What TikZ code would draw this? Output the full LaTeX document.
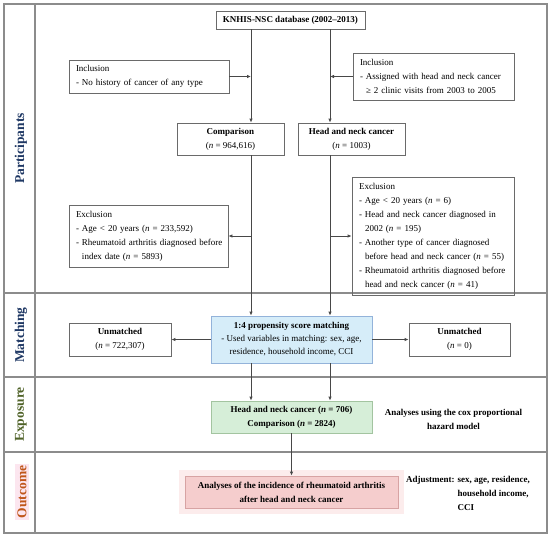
\documentclass[tikz,border=0pt]{standalone}
\usepackage{fontspec}
\setmainfont{Liberation Serif}
\usetikzlibrary{arrows.meta}
\definecolor{framegray}{HTML}{8C8C8C}
\definecolor{boxgray}{HTML}{6A6A6A}
\definecolor{arrowgray}{HTML}{484848}
\definecolor{phasenavy}{HTML}{1F3864}
\definecolor{phaseolive}{HTML}{4F6228}
\definecolor{phaserust}{HTML}{C0561A}
\definecolor{psmfill}{HTML}{D6EDF9}
\definecolor{psmdraw}{HTML}{93B3DA}
\definecolor{expfill}{HTML}{D6EED8}
\definecolor{expdraw}{HTML}{A3C4A0}
\definecolor{outfill}{HTML}{F5CDCD}
\definecolor{outdraw}{HTML}{D7A3A3}
\definecolor{outglow}{HTML}{FCECEC}
\definecolor{labpink}{HTML}{FCE6EF}
\newcommand{\headline}{\hspace*{2.5pt}}
\newcommand{\dashitem}{\hspace*{2.5pt}- }
\newcommand{\contline}{\hspace*{8.5pt}}
\tikzset{
  box/.style={draw=boxgray,line width=0.8pt,inner sep=0pt,
    font=\fontsize{9}{14}\selectfont,align=center},
  listbox/.style={box,align=left,inner xsep=4.5pt},
  phase/.style={rotate=90,inner sep=0pt,font=\fontsize{13.5}{16}\selectfont\bfseries},
  flow/.style={->,color=arrowgray,line width=0.9pt},
  note/.style={inner sep=0pt,font=\fontsize{9}{14}\selectfont\bfseries,align=center}
}

\begin{document}
\begin{tikzpicture}[x=1pt,y=-1pt,>={Latex[length=4pt,width=3.5pt]}]
  \useasboundingbox (0,0) rectangle (550,536);
  \draw[framegray,line width=1.1pt] (4,4) rectangle (547,533);
  \draw[framegray,line width=1.1pt] (35,4) -- (35,533)
    (4,293) -- (547,293) (4,377) -- (547,377) (4,452) -- (547,452);
  \node[phase,text=phasenavy] (Part) at (21,148.5) {Participants};
  \node[phase,text=phasenavy] (Match) at (21,335) {Matching};
  \node[phase,text=phaseolive] (Expo) at (21,414.5) {Exposure};
  \node[phase,text=phaserust,fill=labpink,inner sep=2pt] (Outc) at (22,492) {Outcome};
  \coordinate (colL) at (251,0);
  \coordinate (colR) at (330,0);
  \node[box,minimum width=149pt,minimum height=18pt] (DB) at (290.5,20) {
    \textbf{KNHIS-NSC database (2002--2013)}};
  \node[listbox,text width=151pt,minimum height=33pt] (IncC) at (149,76.5) {
    \headline Inclusion\\
    \dashitem No history of cancer of any type};
  \node[listbox,text width=152pt,minimum height=47pt] (IncH) at (433.5,76.5) {
    \headline Inclusion\\
    \dashitem Assigned with head and neck cancer\\
    \contline ≥ 2 clinic visits from 2003 to 2005};
  \node[box,minimum width=107pt,minimum height=32pt] (Cmp) at (230.5,139) {
    \textbf{Comparison}\\
    (\textit{n} = 964,616)};
  \node[box,minimum width=107pt,minimum height=32pt] (HNC) at (351.5,139) {
    \textbf{Head and neck cancer}\\
    (\textit{n} = 1003)};
  \node[listbox,text width=150pt,minimum height=62pt] (ExcC) at (148.5,236) {
    \headline Exclusion\\
    \dashitem Age < 20 years (\textit{n} = 233,592)\\
    \dashitem Rheumatoid arthritis diagnosed before\\
    \contline index date (\textit{n} = 5893)};
  \node[listbox,text width=153pt,minimum height=118pt] (ExcH) at (433,236) {
    \headline Exclusion\\
    \dashitem Age < 20 years (\textit{n} = 6)\\
    \dashitem Head and neck cancer diagnosed in\\
    \contline 2002 (\textit{n} = 195)\\
    \dashitem Another type of cancer diagnosed\\
    \contline before head and neck cancer (\textit{n} = 55)\\
    \dashitem Rheumatoid arthritis diagnosed before\\
    \contline head and neck cancer (\textit{n} = 41)};
  \node[box,draw=psmdraw,fill=psmfill,minimum width=161pt,minimum height=47pt,
    font=\fontsize{9}{13}\selectfont] (PSM) at (291.5,339.5) {
    \textbf{1:4 propensity score matching}\\
    - Used variables in matching: sex, age,\\
    residence, household income, CCI};
  \node[box,minimum width=102pt,minimum height=33pt] (UnC) at (120,339.5) {
    \textbf{Unmatched}\\
    (\textit{n} = 722,307)};
  \node[box,minimum width=101pt,minimum height=33pt] (UnH) at (459.5,339.5) {
    \textbf{Unmatched}\\
    (\textit{n} = 0)};
  \node[box,draw=expdraw,fill=expfill,minimum width=161pt,minimum height=32pt,
    font=\fontsize{9}{14}\selectfont\bfseries] (Exp) at (291.5,417) {
    Head and neck cancer (\textit{n} = 706)\\
    Comparison (\textit{n} = 2824)};
  \node[note] (Cox) at (453.5,419) {
    Analyses using the cox proportional\\
    hazard model};
  \node[box,draw=outdraw,fill=outfill,minimum width=213pt,minimum height=32pt,
    preaction={draw=outglow,line width=12pt},
    font=\fontsize{9}{14}\selectfont\bfseries] (Out) at (291.5,492) {
    Analyses of the incidence of rheumatoid arthritis\\
    after head and neck cancer};
  \node[note,anchor=west] (Adj) at (406,494) {
    \begin{tabular}{@{}l@{ }l@{}}
      Adjustment: & sex, age, residence,\\
                  & household income,\\
                  & CCI
    \end{tabular}};
  \path[flow] (DB.south -| colL) edge (Cmp.north -| colL)
    (DB.south -| colR) edge (HNC.north -| colR);
  \path[flow] (IncC.east) edge (IncC.east -| colL)
    (IncH.west) edge (IncH.west -| colR);
  \path[flow] (Cmp.south -| colL) edge (PSM.north -| colL)
    (HNC.south -| colR) edge (PSM.north -| colR);
  \path[flow] (ExcC.east -| colL) edge (ExcC.east)
    (ExcH.west -| colR) edge (ExcH.west);
  \path[flow] (PSM.west) edge (UnC.east) (PSM.east) edge (UnH.west);
  \path[flow] (PSM.south -| colL) edge (Exp.north -| colL)
    (PSM.south -| colR) edge (Exp.north -| colR);
  \path[flow] (Exp) edge (Out);
\end{tikzpicture}
\end{document}
